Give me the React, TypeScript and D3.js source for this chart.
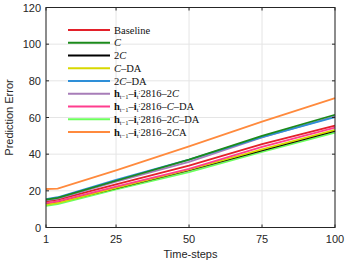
import * as d3 from 'd3'

const steps = [1, 5, 25, 50, 75, 100]
const baseline = [14.2, 15.2, 23.5, 33.8, 45.5, 55.6]
const cOnly = [15.2, 16.2, 25.5, 37.0, 50.0, 61.5]
const twoC = [12.8, 13.8, 21.5, 31.3, 42.0, 52.7]
const cDA = [12.5, 13.5, 21.6, 31.6, 42.6, 53.3]
const twoCDA = [15.5, 16.5, 26.0, 37.0, 49.3, 60.2]
const hTwoC = [14.8, 15.8, 25.0, 35.8, 49.2, 60.6]
const hCDA = [13.3, 14.3, 22.3, 32.0, 44.0, 54.5]
const hTwoCDA = [11.8, 12.8, 20.8, 30.2, 41.3, 51.8]
const hTwoCA = [21.0, 21.2, 31.1, 44.2, 57.8, 70.6]

const xTicks = [1, 25, 50, 75, 100]
const yTicks = [0, 20, 40, 60, 80, 100, 120]

type Series = { tail: string; prefix: boolean; color: string; values: number[] }

// "C" in a tail is drawn as an italic calligraphic-ish C
const series: Series[] = [
  { tail: 'Baseline', prefix: false, color: '#e3202a', values: baseline },
  { tail: 'C', prefix: false, color: '#1b8a1b', values: cOnly },
  { tail: '2C', prefix: false, color: '#000000', values: twoC },
  { tail: 'C–DA', prefix: false, color: '#d8d800', values: cDA },
  { tail: '2C–DA', prefix: false, color: '#2e8fd8', values: twoCDA },
  { tail: '2C', prefix: true, color: '#a77db8', values: hTwoC },
  { tail: 'C–DA', prefix: true, color: '#ff3d8e', values: hCDA },
  { tail: '2C–DA', prefix: true, color: '#6cff5c', values: hTwoCDA },
  { tail: '2CA', prefix: true, color: '#ff8a3d', values: hTwoCA },
]

// draw order: back to front roughly as in the figure
const drawOrder = [8, 7, 2, 3, 6, 0, 5, 4, 1]

const W = 347
const H = 263
const m = { left: 46, right: 12, top: 7.5, bottom: 35.5 }

function tailParts(tail: string) {
  if (tail === 'Baseline') return tail
  return tail.split('').map((ch, i) =>
    ch === 'C' ? <tspan key={i} fontStyle="italic">C</tspan> : <tspan key={i}>{ch}</tspan>
  )
}

export default function App() {
  const x = d3.scaleLinear().domain([1, 100]).range([m.left, W - m.right])
  const y = d3.scaleLinear().domain([0, 120]).range([H - m.bottom, m.top])
  const line = d3.line<number>().x((_, i) => x(steps[i])).y(d => y(d))
  const axisColor = '#262626'
  const tickFont = '"Liberation Sans", Arial, sans-serif'
  const serif = '"Liberation Serif", "DejaVu Serif", serif'
  const x0 = x(1), x1 = x(100), y0 = y(0), y1 = y(120)

  return (
    <svg width={W} height={H} style={{ position: 'absolute', left: 0, top: 0, background: '#fff' }}>
      {xTicks.map(t => (
        <line key={'gx' + t} x1={x(t)} x2={x(t)} y1={y0} y2={y1} stroke="#e5e5e5" strokeWidth={1} />
      ))}
      {yTicks.map(t => (
        <line key={'gy' + t} x1={x0} x2={x1} y1={y(t)} y2={y(t)} stroke="#e5e5e5" strokeWidth={1} />
      ))}
      {drawOrder.map(i => (
        <path key={i} d={line(series[i].values) ?? ''} fill="none" stroke={series[i].color} strokeWidth={1.8} />
      ))}
      <rect x={x0} y={y1} width={x1 - x0} height={y0 - y1} fill="none" stroke={axisColor} strokeWidth={1} />
      {xTicks.map(t => (
        <g key={'tx' + t}>
          <line x1={x(t)} x2={x(t)} y1={y0} y2={y0 - 3} stroke={axisColor} />
          <line x1={x(t)} x2={x(t)} y1={y1} y2={y1 + 3} stroke={axisColor} />
          <text x={x(t)} y={y0 + 15} textAnchor="middle" fontSize={11} fontFamily={tickFont} fill={axisColor}>{t}</text>
        </g>
      ))}
      {yTicks.map(t => (
        <g key={'ty' + t}>
          <line x1={x0} x2={x0 + 3} y1={y(t)} y2={y(t)} stroke={axisColor} />
          <line x1={x1} x2={x1 - 3} y1={y(t)} y2={y(t)} stroke={axisColor} />
          <text x={x0 - 5} y={y(t) + 4} textAnchor="end" fontSize={11} fontFamily={tickFont} fill={axisColor}>{t}</text>
        </g>
      ))}
      <text x={(x0 + x1) / 2} y={H - 5} textAnchor="middle" fontSize={11} fontFamily={tickFont} fill={axisColor}>Time-steps</text>
      <text transform={`translate(13,${(y0 + y1) / 2}) rotate(-90)`} textAnchor="middle" fontSize={11} fontFamily={tickFont} fill={axisColor}>Prediction Error</text>
      {series.map((s, i) => {
        const ly = 30 + i * 12.75
        return (
          <g key={'lg' + i}>
            <line x1={68} x2={110} y1={ly} y2={ly} stroke={s.color} strokeWidth={1.8} />
            <text x={114} y={ly + 3.5} fontSize={10.5} fontFamily={serif} fill="#111">
              {s.prefix ? (
                <>
                  <tspan fontWeight="bold">h</tspan>
                  <tspan fontSize={6.5} dy={2}>t−1</tspan>
                  <tspan dy={-2}>–</tspan>
                  <tspan fontWeight="bold">i</tspan>
                  <tspan fontSize={6.5} dy={2}>t</tspan>
                  <tspan fontSize={6.5} dy={-5}>:</tspan>
                  <tspan dy={3}>2816–</tspan>
                  {tailParts(s.tail)}
                </>
              ) : tailParts(s.tail)}
            </text>
          </g>
        )
      })}
    </svg>
  )
}
